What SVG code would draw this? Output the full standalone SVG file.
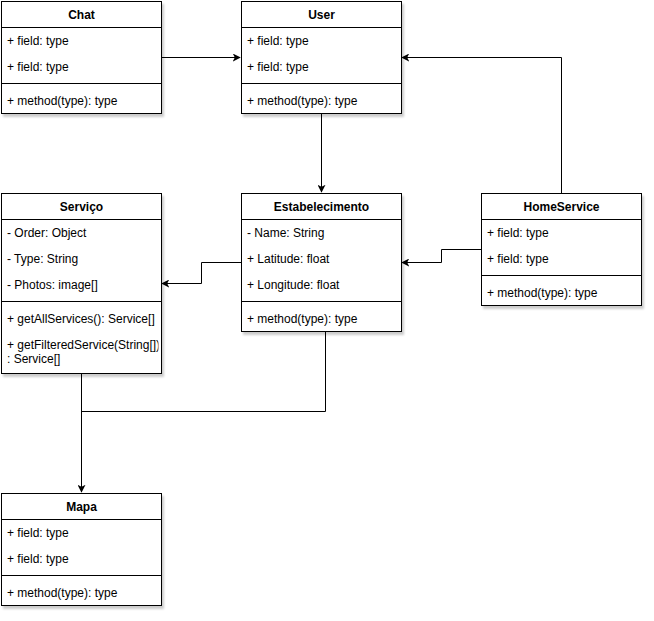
<svg xmlns="http://www.w3.org/2000/svg" width="654" height="621" viewBox="0 0 654 621">
<style>
.box{fill:#fff;stroke:#000;stroke-width:1}
.div{stroke:#000;stroke-width:1}
.t{font-family:"Liberation Sans",Arial,sans-serif;font-size:12px;fill:#000}
.h{font-weight:bold;text-anchor:middle}
.c{fill:none;stroke:#000;stroke-width:1}
</style>
<defs>
<filter id="sh" x="-10%" y="-10%" width="130%" height="130%">
<feDropShadow dx="2" dy="3" stdDeviation="1.2" flood-color="#000" flood-opacity="0.2"/>
</filter>
<marker id="arr" viewBox="0 0 10 10" refX="9" refY="5" markerWidth="8" markerHeight="8" markerUnits="userSpaceOnUse" orient="auto">
<path d="M0,0 L10,5 L0,10 L2.5,5 Z" fill="#000"/>
</marker>
<clipPath id="clipS"><rect x="1" y="193" width="157.5" height="180"/></clipPath>
</defs>
<rect width="654" height="621" fill="#fff"/>

<g id="connectors">
<path class="c" d="M161.5,57.5 H240" marker-end="url(#arr)"/>
<path class="c" d="M561.5,193.5 V57.5 H402" marker-end="url(#arr)"/>
<path class="c" d="M321.5,113.5 V192" marker-end="url(#arr)"/>
<path class="c" d="M481.5,249.5 H441.5 V262.5 H402" marker-end="url(#arr)"/>
<path class="c" d="M241.5,262.5 H201.5 V283.5 H162" marker-end="url(#arr)"/>
<path class="c" d="M81.5,373.5 V492" marker-end="url(#arr)"/>
<path class="c" d="M325.5,331.5 V411.5 H81.5"/>
</g>

<g id="chat">
<rect class="box" x="1.5" y="1.5" width="160" height="112" filter="url(#sh)"/>
<line class="div" x1="1.5" y1="27.5" x2="161.5" y2="27.5"/>
<line class="div" x1="1.5" y1="83.5" x2="161.5" y2="83.5"/>
<text class="t h" x="81.5" y="19">Chat</text>
<text class="t" x="7" y="45">+ field: type</text>
<text class="t" x="7" y="71">+ field: type</text>
<text class="t" x="7" y="105">+ method(type): type</text>
</g>

<g id="user">
<rect class="box" x="241.5" y="1.5" width="160" height="112" filter="url(#sh)"/>
<line class="div" x1="241.5" y1="27.5" x2="401.5" y2="27.5"/>
<line class="div" x1="241.5" y1="83.5" x2="401.5" y2="83.5"/>
<text class="t h" x="321.5" y="19">User</text>
<text class="t" x="247" y="45">+ field: type</text>
<text class="t" x="247" y="71">+ field: type</text>
<text class="t" x="247" y="105">+ method(type): type</text>
</g>

<g id="servico">
<rect class="box" x="1.5" y="193.5" width="160" height="180" filter="url(#sh)"/>
<line class="div" x1="1.5" y1="219.5" x2="161.5" y2="219.5"/>
<line class="div" x1="1.5" y1="301.5" x2="161.5" y2="301.5"/>
<text class="t h" x="81.5" y="211">Serviço</text>
<text class="t" x="7" y="237">- Order: Object</text>
<text class="t" x="7" y="263">- Type: String</text>
<text class="t" x="7" y="289">- Photos: image[]</text>
<text class="t" x="7" y="323">+ getAllServices(): Service[]</text>
<g clip-path="url(#clipS)">
<text class="t" x="7" y="349">+ getFilteredService(String[])</text>
</g>
<text class="t" x="7" y="363">: Service[]</text>
</g>

<g id="estabelecimento">
<rect class="box" x="241.5" y="193.5" width="160" height="138" filter="url(#sh)"/>
<line class="div" x1="241.5" y1="219.5" x2="401.5" y2="219.5"/>
<line class="div" x1="241.5" y1="301.5" x2="401.5" y2="301.5"/>
<text class="t h" x="321.5" y="211">Estabelecimento</text>
<text class="t" x="247" y="237">- Name: String</text>
<text class="t" x="247" y="263">+ Latitude: float</text>
<text class="t" x="247" y="289">+ Longitude: float</text>
<text class="t" x="247" y="323">+ method(type): type</text>
</g>

<g id="homeservice">
<rect class="box" x="481.5" y="193.5" width="160" height="112" filter="url(#sh)"/>
<line class="div" x1="481.5" y1="219.5" x2="641.5" y2="219.5"/>
<line class="div" x1="481.5" y1="275.5" x2="641.5" y2="275.5"/>
<text class="t h" x="561.5" y="211">HomeService</text>
<text class="t" x="487" y="237">+ field: type</text>
<text class="t" x="487" y="263">+ field: type</text>
<text class="t" x="487" y="297">+ method(type): type</text>
</g>

<g id="mapa">
<rect class="box" x="1.5" y="493.5" width="160" height="112" filter="url(#sh)"/>
<line class="div" x1="1.5" y1="519.5" x2="161.5" y2="519.5"/>
<line class="div" x1="1.5" y1="575.5" x2="161.5" y2="575.5"/>
<text class="t h" x="81.5" y="511">Mapa</text>
<text class="t" x="7" y="537">+ field: type</text>
<text class="t" x="7" y="563">+ field: type</text>
<text class="t" x="7" y="597">+ method(type): type</text>
</g>
</svg>
